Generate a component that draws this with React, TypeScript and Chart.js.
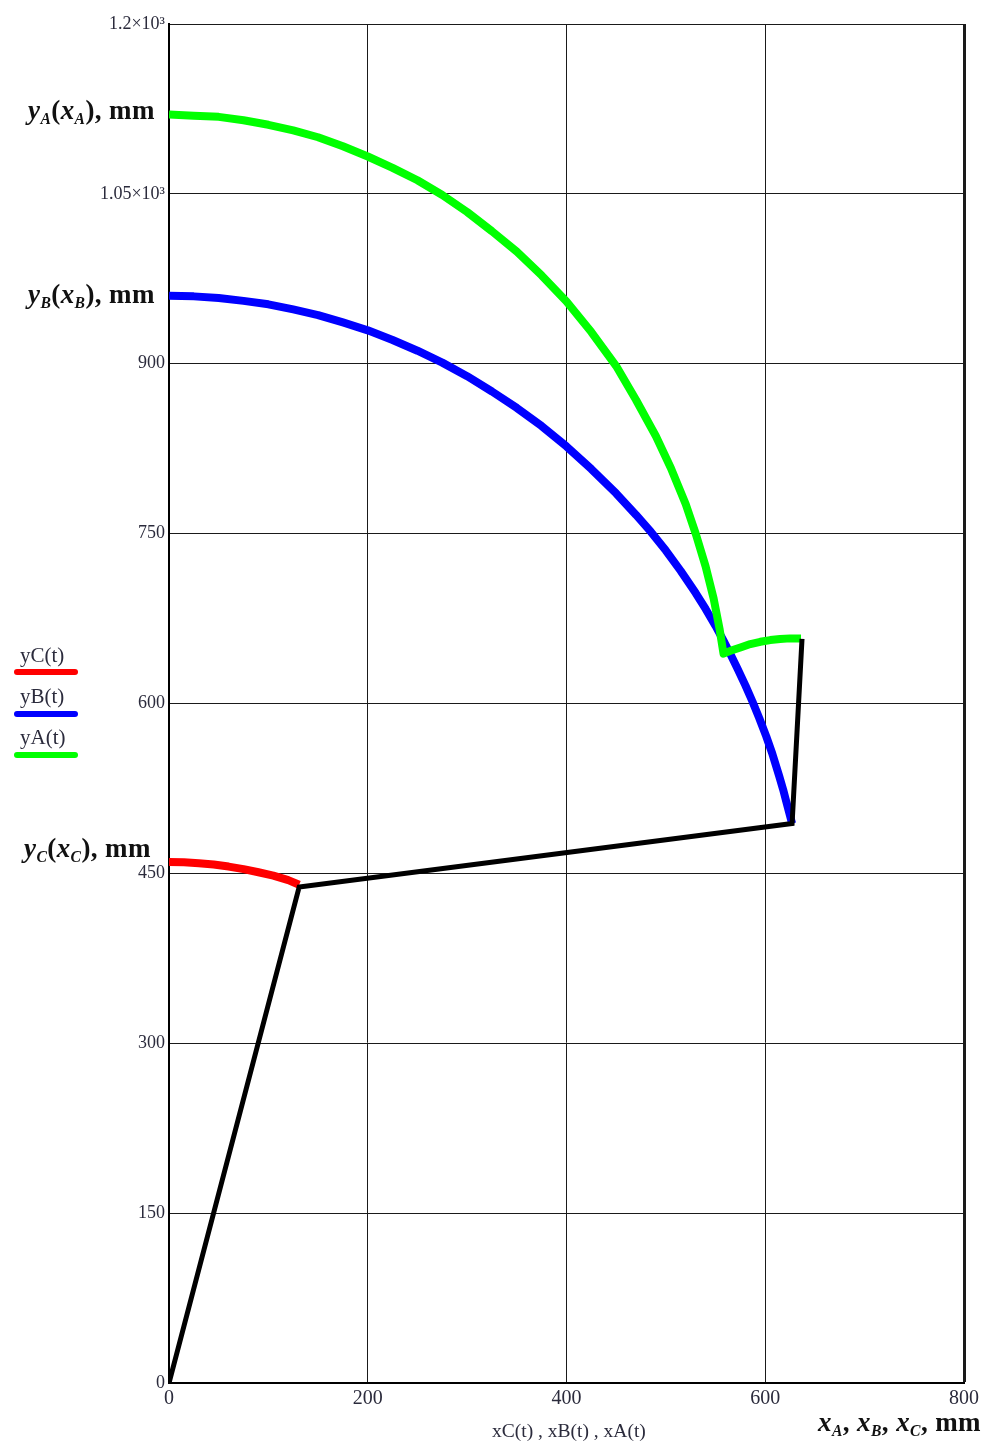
import React, { useEffect, useRef } from "react";
import { Chart, registerables } from "chart.js";

Chart.register(...registerables);

// ---- data ----
const xA = [0, 25, 50, 75, 100, 125, 150, 175, 200, 225, 250, 275, 300, 325, 350, 375, 400, 425, 450, 470, 490, 505, 520, 530, 540, 548, 554, 558, 565, 575, 585, 595, 605, 615, 625, 636];
const yA = [1120, 1119, 1118, 1115, 1111, 1106, 1100, 1092, 1083, 1073, 1062, 1049, 1034, 1017, 999, 978, 955, 928, 898, 868, 836, 808, 776, 750, 721, 693, 666, 644, 646.5, 649.5, 652.5, 654.5, 656, 657, 657.5, 657.5];

const xB = [0, 25, 50, 75, 100, 125, 150, 175, 200, 225, 250, 275, 300, 325, 350, 375, 400, 425, 450, 470, 485, 500, 515, 530, 540, 550, 558, 565, 572, 580, 587, 594, 601, 607, 614, 618, 621, 624, 627];
const yB = [960, 959.5, 958, 955.5, 952.5, 948, 943, 936.5, 929.5, 921, 911.5, 901, 889, 875.5, 861, 845, 827, 807, 785.5, 766.5, 751.5, 735, 717, 697.5, 683.5, 668.5, 655.5, 643.5, 631, 616, 602, 587, 571, 556, 536, 524, 514, 504, 494];

const xC = [0, 15, 30, 45, 60, 75, 90, 105, 120, 131];
const yC = [460, 459.8, 459, 457.8, 456, 453.8, 451, 448, 444, 440];

const xLink = [0, 131, 627, 637];
const yLink = [0, 438, 494, 657];

const xTickValues = [0, 200, 400, 600, 800];
const xTickLabels = ["0", "200", "400", "600", "800"];
const yTickValues = [0, 150, 300, 450, 600, 750, 900, 1050, 1200];
const yTickLabels = ["0", "150", "300", "450", "600", "750", "900", "1.05×10³", "1.2×10³"];

const SERIF = "'Liberation Serif', 'Times New Roman', serif";
const TICK_COLOR = "#2b2b3c";

const pts = (xs: number[], ys: number[]) => xs.map((x, i) => ({ x, y: ys[i] }));

function Sub({ children }: { children: React.ReactNode }) {
  return (
    <span style={{ fontStyle: "italic", fontSize: "0.58em", verticalAlign: "-0.35em", lineHeight: 0 }}>{children}</span>
  );
}
function I({ children }: { children: React.ReactNode }) {
  return <span style={{ fontStyle: "italic" }}>{children}</span>;
}

export default function App() {
  const ref = useRef<HTMLCanvasElement | null>(null);

  useEffect(() => {
    if (!ref.current) return;
    const chart = new Chart(ref.current, {
      type: "scatter",
      data: {
        datasets: [
          {
            label: "link",
            data: pts(xLink, yLink),
            showLine: true,
            borderColor: "#000000",
            backgroundColor: "#000000",
            borderWidth: 5,
            pointRadius: 0,
            borderJoinStyle: "miter",
          },
          {
            label: "yA(t)",
            data: pts(xA, yA),
            showLine: true,
            borderColor: "#00ff00",
            backgroundColor: "#00ff00",
            borderWidth: 8,
            pointRadius: 0,
            borderJoinStyle: "round",
            clip: 0,
          },
          {
            label: "yB(t)",
            data: pts(xB, yB),
            showLine: true,
            borderColor: "#0000ff",
            backgroundColor: "#0000ff",
            borderWidth: 8,
            pointRadius: 0,
            borderJoinStyle: "round",
            clip: 0,
          },
          {
            label: "yC(t)",
            data: pts(xC, yC),
            showLine: true,
            borderColor: "#ff0000",
            backgroundColor: "#ff0000",
            borderWidth: 8,
            pointRadius: 0,
            borderJoinStyle: "round",
            clip: 0,
          },
        ],
      },
      options: {
        animation: false,
        responsive: true,
        maintainAspectRatio: false,
        devicePixelRatio: 1,
        layout: { padding: { left: 0, right: 22, top: 24, bottom: 0 } },
        plugins: { legend: { display: false }, tooltip: { enabled: false } },
        scales: {
          x: {
            type: "linear",
            min: 0,
            max: 800,
            afterBuildTicks: (s: any) => {
              s.ticks = xTickValues.map((v) => ({ value: v }));
            },
            afterFit: (s: any) => {
              s.height = 62;
            },
            ticks: {
              callback: (v: any) => xTickLabels[xTickValues.indexOf(Number(v))] ?? "",
              font: { family: SERIF, size: 20 },
              color: TICK_COLOR,
              padding: 4,
              maxRotation: 0,
            },
            grid: {
              color: "#1a1a1a",
              lineWidth: (ctx: any) => (ctx.tick && ctx.tick.value === 800 ? 3 : 1),
              drawTicks: false,
            },
            border: { display: true, color: "#000000", width: 2 },
          },
          y: {
            type: "linear",
            min: 0,
            max: 1200,
            afterBuildTicks: (s: any) => {
              s.ticks = yTickValues.map((v) => ({ value: v }));
            },
            afterFit: (s: any) => {
              s.width = 169;
            },
            ticks: {
              callback: (v: any) => yTickLabels[yTickValues.indexOf(Number(v))] ?? "",
              font: { family: SERIF, size: 18 },
              color: TICK_COLOR,
              padding: 4,
            },
            grid: {
              color: "#1a1a1a",
              lineWidth: 1,
              drawTicks: false,
            },
            border: { display: true, color: "#000000", width: 2 },
          },
        },
      },
    } as any);
    return () => chart.destroy();
  }, []);

  const yTitle: React.CSSProperties = {
    position: "absolute",
    fontFamily: SERIF,
    fontWeight: "bold",
    fontSize: 27,
    lineHeight: "27px",
    letterSpacing: "0.4px",
    color: "#111",
    whiteSpace: "nowrap",
  };
  const legText: React.CSSProperties = {
    position: "absolute",
    left: 20,
    fontFamily: SERIF,
    fontSize: 21,
    lineHeight: "21px",
    color: TICK_COLOR,
    whiteSpace: "nowrap",
  };
  const legLine = (top: number, color: string): React.CSSProperties => ({
    position: "absolute",
    left: 14,
    top,
    width: 64,
    height: 6,
    borderRadius: 3,
    background: color,
  });

  return (
    <div style={{ position: "absolute", left: 0, top: 0, width: 986, height: 1445, background: "#fff", overflow: "hidden" }}>
      <canvas ref={ref} style={{ position: "absolute", left: 0, top: 0, width: 986, height: 1445 }} />

      <div style={{ ...yTitle, left: 28, top: 97 }}>
        <I>y</I><Sub>A</Sub>(<I>x</I><Sub>A</Sub>), mm
      </div>
      <div style={{ ...yTitle, left: 28, top: 281 }}>
        <I>y</I><Sub>B</Sub>(<I>x</I><Sub>B</Sub>), mm
      </div>
      <div style={{ ...yTitle, left: 24, top: 835 }}>
        <I>y</I><Sub>C</Sub>(<I>x</I><Sub>C</Sub>), mm
      </div>
      <div style={{ ...yTitle, left: 818, top: 1409 }}>
        <I>x</I><Sub>A</Sub>, <I>x</I><Sub>B</Sub>, <I>x</I><Sub>C</Sub>, mm
      </div>
      <div
        style={{
          position: "absolute",
          left: 492,
          top: 1421,
          fontFamily: SERIF,
          fontSize: 19.5,
          lineHeight: "20px",
          color: TICK_COLOR,
          whiteSpace: "nowrap",
        }}
      >
        xC(t) , xB(t) , xA(t)
      </div>

      <div style={{ ...legText, top: 645 }}>yC(t)</div>
      <div style={legLine(669, "#ff0000")} />
      <div style={{ ...legText, top: 686 }}>yB(t)</div>
      <div style={legLine(711, "#0000ff")} />
      <div style={{ ...legText, top: 727 }}>yA(t)</div>
      <div style={legLine(752, "#00ff00")} />
    </div>
  );
}
